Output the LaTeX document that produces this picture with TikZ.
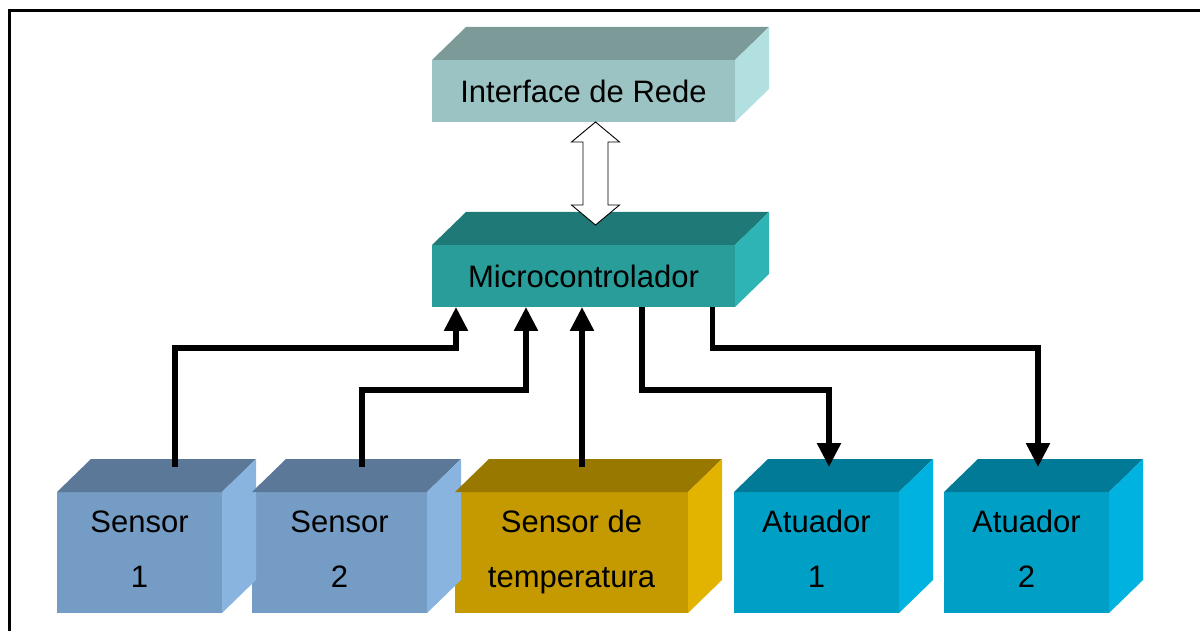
\documentclass[tikz,border=0pt]{standalone}
\usepackage{fontspec}
\setmainfont{Liberation Sans}
\usetikzlibrary{arrows.meta}
% cores das faces (frente, topo, lado)
\definecolor{redeF}{HTML}{9CC3C3}
\definecolor{redeT}{HTML}{7B9A98}
\definecolor{redeL}{HTML}{B2E0E0}
\definecolor{microF}{HTML}{299D9A}
\definecolor{microT}{HTML}{1F7A77}
\definecolor{microL}{HTML}{2EB4B4}
\definecolor{sensF}{HTML}{759CC5}
\definecolor{sensT}{HTML}{5C7898}
\definecolor{sensL}{HTML}{89B4E0}
\definecolor{tempF}{HTML}{C49A00}
\definecolor{tempT}{HTML}{997800}
\definecolor{tempL}{HTML}{E2B400}
\definecolor{atuF}{HTML}{00A0C6}
\definecolor{atuT}{HTML}{007A96}
\definecolor{atuL}{HTML}{00B2E0}
\tikzset{caixa/.append style={inner sep=0pt, outer sep=0pt, align=center, font=\fontsize{31}{55}\selectfont}}
\tikzset{baixa/.append style={minimum width=165pt, minimum height=121pt, text height=76pt, text depth=7pt}}
\tikzset{liga/.append style={line width=5.5pt, -{Triangle[length=24pt,width=23pt]}}}
\tikzset{dupla/.append style={draw=black, fill=white, line width=0.9pt, line join=miter}}
% topo e lado de um bloco 3D
\newcommand{\faces}[3]{%
  \fill[#2] (#1.north west) -- ++(34,33) -- ([shift={(34,33)}]#1.north east) -- (#1.north east) -- cycle;
  \fill[#3] (#1.north east) -- ++(34,33) -- ([shift={(34,33)}]#1.south east) -- (#1.south east) -- cycle;}

\begin{document}
\begin{tikzpicture}[x=1pt,y=1pt]
                \useasboundingbox (0,0) rectangle (1200,630);
                \draw[line width=3pt] (9.5,-5) -- (9.5,619) -- (1205,619);
                % blocos
                \node[caixa,fill=redeF,minimum width=303pt,minimum height=62pt] (rede) at (583.5,539) {Interface de Rede};
                \node[caixa,fill=microF,minimum width=303pt,minimum height=62pt] (micro) at (583.5,354) {Microcontrolador};
                \node[caixa,baixa,fill=sensF] (s1) at (139.5,77.5) {Sensor\\1};
                \node[caixa,baixa,fill=sensF,minimum width=175pt] (s2) at (339.5,77.5) {Sensor\\2};
                \node[caixa,baixa,fill=tempF,minimum width=233pt] (temp) at (571.5,77.5) {Sensor de\\temperatura};
                \node[caixa,baixa,fill=atuF] (a1) at (816.5,77.5) {Atuador\\1};
                \node[caixa,baixa,fill=atuF] (a2) at (1026.5,77.5) {Atuador\\2};
                \faces{rede}{redeT}{redeL}
                \faces{micro}{microT}{microL}
                \faces{s1}{sensT}{sensL}
                \faces{s2}{sensT}{sensL}
                \faces{temp}{tempT}{tempL}
                \faces{a1}{atuT}{atuL}
                \faces{a2}{atuT}{atuL}
                % niveis das ligacoes
                \coordinate (n1) at (0,282);
                \coordinate (n2) at (0,240);
                \coordinate (p1) at ([shift={(35.5,25)}]s1.north);
                \coordinate (p2) at ([shift={(22.5,25)}]s2.north);
                \coordinate (p3) at ([shift={(10.5,25)}]temp.north);
                \coordinate (q1) at ([shift={(12.5,25)}]a1.north);
                \coordinate (q2) at ([shift={(11.5,25)}]a2.north);
                \draw[liga] (p1) -- (p1 |- n1) -| ([xshift=-127.5]micro.south);
                \draw[liga] (p2) -- (p2 |- n2) -| ([xshift=-57.5]micro.south);
                \draw[liga] (p3) -- (p3 |- micro.south);
                \draw[liga] ([xshift=58.5]micro.south) |- (n2 -| q1) -- (q1);
                \draw[liga] ([xshift=129]micro.south) |- (n1 -| q2) -- (q2);
                % seta dupla rede <-> micro
                \coordinate (t) at ([xshift=12]rede.south);
                \coordinate (b) at ([shift={(12,20)}]micro.north);
                \draw[dupla] (t) -- ++(24,-20) -- ++(-11.5,0) -- ([shift={(12.5,20)}]b) -- ++(11.5,0) -- (b)
                    -- ++(-24,20) -- ++(11.5,0) -- ([shift={(-12.5,-20)}]t) -- ++(-11.5,0) -- cycle;
            \end{tikzpicture}
\end{document}
